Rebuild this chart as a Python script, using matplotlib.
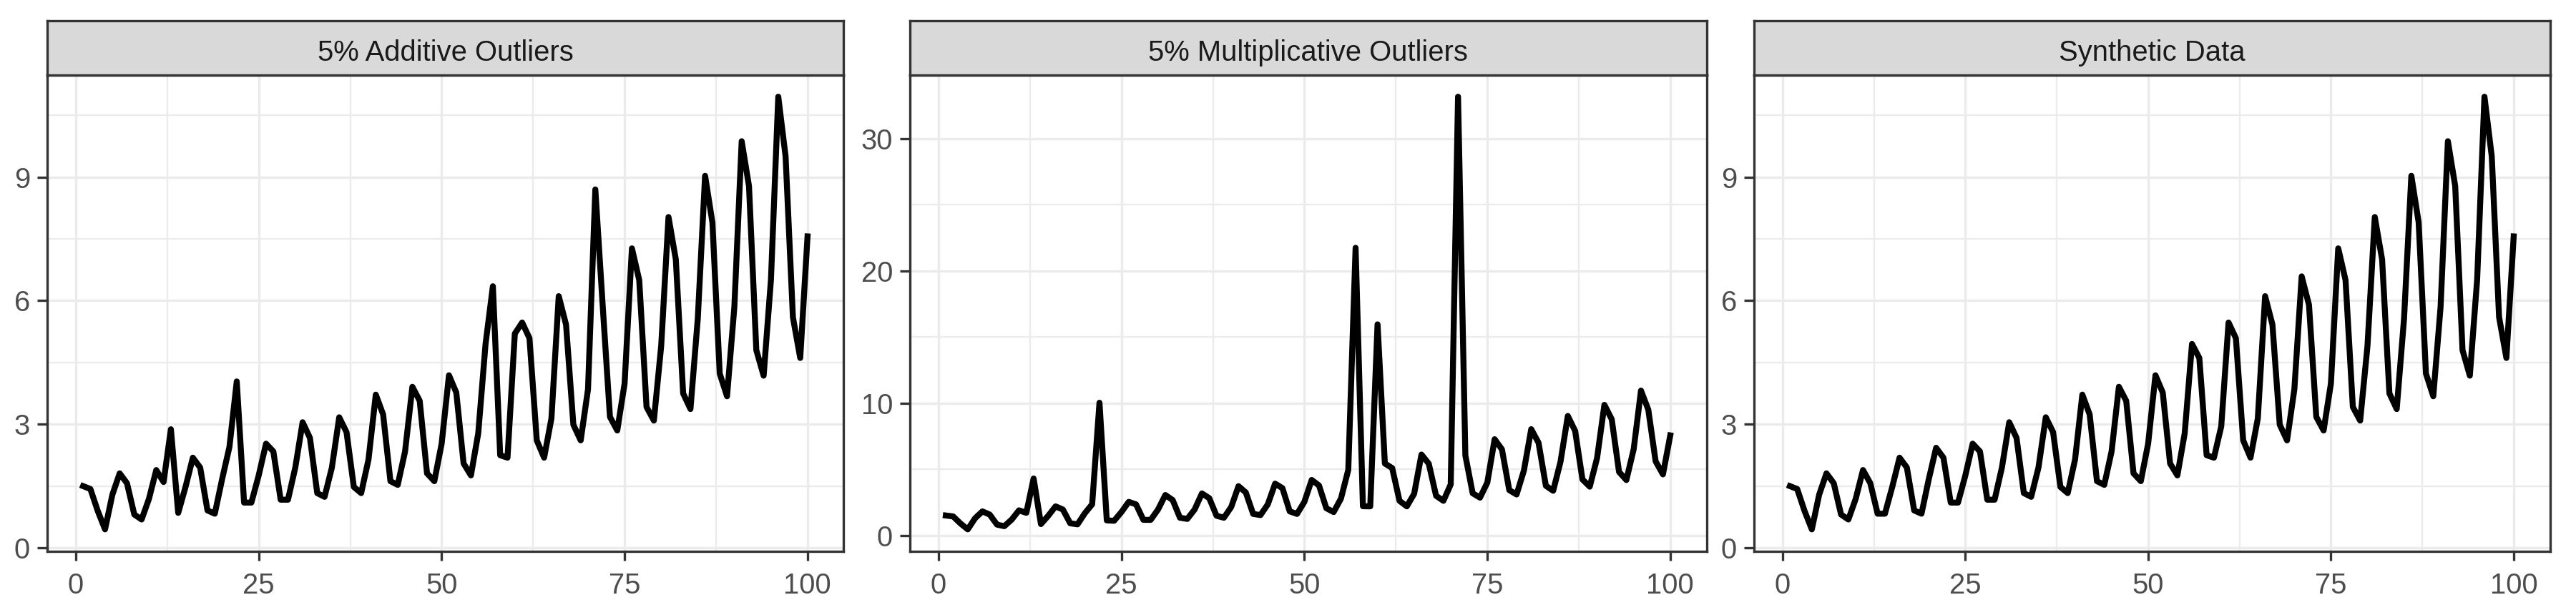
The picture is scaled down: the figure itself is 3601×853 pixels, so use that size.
import matplotlib
matplotlib.use('Agg')
import matplotlib.pyplot as plt
from matplotlib.ticker import MultipleLocator

# R / ggplot on windows draws with Arial -> Liberation Sans is the metric twin
plt.rcParams['font.family'] = ['Liberation Sans', 'DejaVu Sans']

# time index 1..100
time_index = list(range(1, 101))

# synthetic seasonal series
synthetic = [
    1.50, 1.43, 0.90, 0.45, 1.29, 1.81, 1.57, 0.81, 0.69, 1.19,
    1.89, 1.57, 0.83, 0.83, 1.48, 2.19, 1.95, 0.91, 0.83, 1.67,
    2.43, 2.19, 1.10, 1.10, 1.76, 2.53, 2.34, 1.17, 1.17, 1.95,
    3.05, 2.67, 1.33, 1.24, 1.95, 3.17, 2.81, 1.48, 1.33, 2.14,
    3.72, 3.24, 1.62, 1.53, 2.34, 3.91, 3.57, 1.81, 1.62, 2.53,
    4.19, 3.77, 2.05, 1.76, 2.78, 4.95, 4.61, 2.25, 2.19, 2.95,
    5.47, 5.09, 2.61, 2.19, 3.14, 6.11, 5.42, 2.99, 2.61, 3.85,
    6.59, 5.90, 3.18, 2.85, 3.99, 7.27, 6.50, 3.42, 3.09, 4.90,
    8.03, 7.00, 3.75, 3.37, 5.56, 9.03, 7.90, 4.23, 3.68, 5.85,
    9.87, 8.78, 4.80, 4.18, 6.51, 10.95, 9.50, 5.60, 4.61, 7.56,
]

# same series with 5 additive outliers (t = 13, 22, 57, 60, 71)
additive = [
    1.50, 1.43, 0.90, 0.45, 1.29, 1.81, 1.57, 0.81, 0.69, 1.19,
    1.89, 1.60, 2.88, 0.85, 1.48, 2.19, 1.95, 0.91, 0.83, 1.67,
    2.45, 4.04, 1.10, 1.10, 1.76, 2.53, 2.34, 1.17, 1.17, 1.95,
    3.05, 2.67, 1.33, 1.24, 1.95, 3.17, 2.81, 1.48, 1.33, 2.14,
    3.72, 3.24, 1.62, 1.53, 2.34, 3.91, 3.57, 1.81, 1.62, 2.53,
    4.19, 3.77, 2.05, 1.76, 2.78, 4.95, 6.35, 2.25, 2.19, 5.20,
    5.47, 5.09, 2.61, 2.19, 3.14, 6.11, 5.42, 2.99, 2.61, 3.85,
    8.70, 5.90, 3.18, 2.85, 3.99, 7.27, 6.50, 3.42, 3.09, 4.90,
    8.03, 7.00, 3.75, 3.37, 5.56, 9.03, 7.90, 4.23, 3.68, 5.85,
    9.87, 8.78, 4.80, 4.18, 6.51, 10.95, 9.50, 5.60, 4.61, 7.56,
]

# same series with 5 multiplicative outliers
multiplicative = [
    1.50, 1.43, 0.90, 0.45, 1.29, 1.81, 1.57, 0.81, 0.69, 1.19,
    1.89, 1.70, 4.30, 0.85, 1.48, 2.19, 1.95, 0.91, 0.83, 1.67,
    2.35, 10.03, 1.13, 1.10, 1.76, 2.53, 2.34, 1.17, 1.17, 1.95,
    3.05, 2.67, 1.33, 1.24, 1.95, 3.17, 2.81, 1.48, 1.33, 2.14,
    3.72, 3.24, 1.62, 1.53, 2.34, 3.91, 3.57, 1.81, 1.62, 2.53,
    4.19, 3.77, 2.05, 1.76, 2.78, 4.95, 21.75, 2.20, 2.19, 15.96,
    5.43, 5.09, 2.61, 2.19, 3.14, 6.11, 5.42, 2.99, 2.61, 3.85,
    33.18, 6.04, 3.18, 2.85, 3.99, 7.27, 6.50, 3.42, 3.09, 4.90,
    8.03, 7.00, 3.75, 3.37, 5.56, 9.03, 7.90, 4.23, 3.68, 5.85,
    9.87, 8.78, 4.80, 4.18, 6.51, 10.95, 9.50, 5.60, 4.61, 7.56,
]

panel_titles = ['5% Additive Outliers', '5% Multiplicative Outliers', 'Synthetic Data']
panel_series = [additive, multiplicative, synthetic]
y_steps = [3, 10, 3]
x_ticks = [0, 25, 50, 75, 100]

# layout in pixels of the 3601x853 output
W, H = 3601, 853
panel_x = [(65.5, 1179.5), (1271.5, 2385.5), (2451.5, 3564.5)]
strip_top, panel_top, panel_bottom = 28.5, 105.0, 770.5

grid_col = '#EBEBEB'
dark = '#333333'
font_size = 9.6


def expand(values):
    # ggplot default: 5% on each side
    lo, hi = min(values), max(values)
    pad = 0.05 * (hi - lo)
    return lo - pad, hi + pad


fig = plt.figure(figsize=(W / 300, H / 300), dpi=300)

for title, series, step, (x0, x1) in zip(panel_titles, panel_series, y_steps, panel_x):
    left, width = x0 / W, (x1 - x0) / W
    bottom = 1 - panel_bottom / H
    height = (panel_bottom - panel_top) / H

    ax = fig.add_axes([left, bottom, width, height])
    ax.plot(time_index, series, color='black', linewidth=2.0, solid_joinstyle='round', zorder=3)

    ax.set_xlim(*expand(time_index))
    ax.set_ylim(*expand(series))
    ax.set_xticks(x_ticks)
    ax.set_xticklabels([str(t) for t in x_ticks])
    ax.xaxis.set_minor_locator(MultipleLocator(12.5))
    ax.yaxis.set_major_locator(MultipleLocator(step))
    ax.yaxis.set_minor_locator(MultipleLocator(step / 2))

    ax.set_axisbelow(True)
    ax.grid(which='major', color=grid_col, linewidth=0.8)
    ax.grid(which='minor', color=grid_col, linewidth=0.55)

    for sp in ax.spines.values():
        sp.set_color(dark)
        sp.set_linewidth(0.8)
        sp.set_zorder(4)

    ax.tick_params(which='major', width=0.8, color=dark,
                   labelsize=font_size, labelcolor='#4D4D4D')
    ax.tick_params(axis='y', length=3.4, pad=2.2)
    ax.tick_params(axis='x', length=3.0, pad=4.0)
    ax.tick_params(which='minor', length=0)

    # facet strip on top of the panel
    sax = fig.add_axes([left, 1 - panel_top / H, width, (panel_top - strip_top) / H])
    sax.set_facecolor('#D9D9D9')
    sax.set_xticks([])
    sax.set_yticks([])
    for sp in sax.spines.values():
        sp.set_color(dark)
        sp.set_linewidth(0.8)
    sax.text(0.5, 0.255, title, ha='center', va='baseline', fontsize=font_size,
             color='#1A1A1A', transform=sax.transAxes)

fig.savefig('out.png', dpi=300)
